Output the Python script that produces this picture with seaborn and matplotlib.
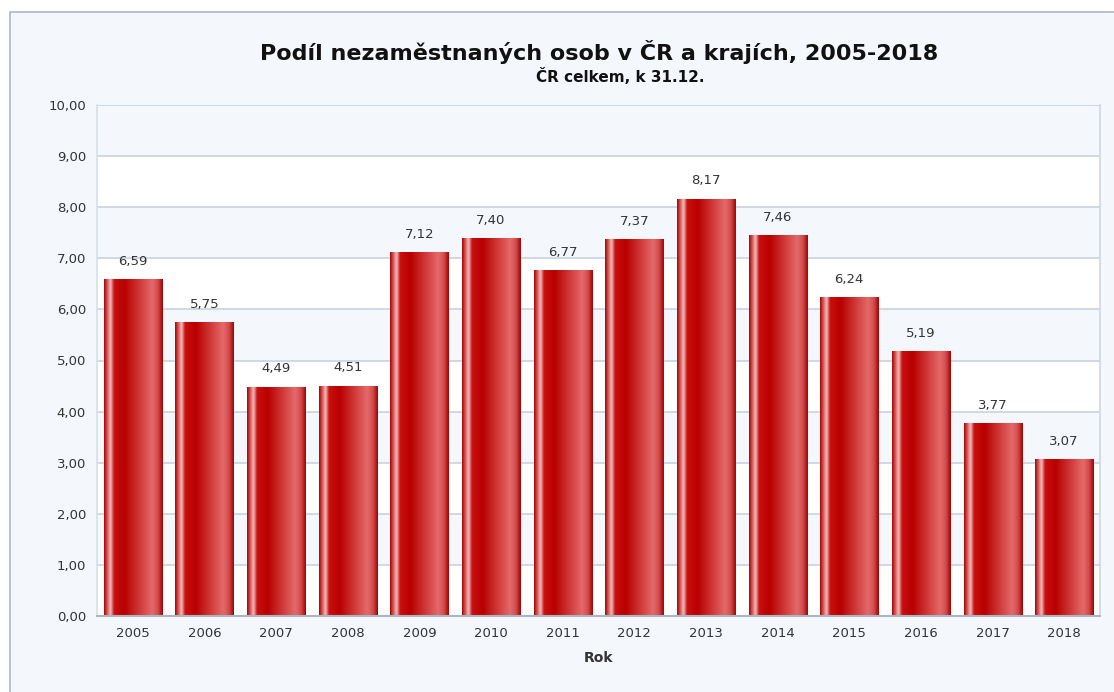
import numpy as np
import pandas as pd
import matplotlib
matplotlib.use("Agg")
import matplotlib.pyplot as plt
import seaborn as sns
from matplotlib.colors import LinearSegmentedColormap

years = ["2005", "2006", "2007", "2008", "2009", "2010", "2011",
         "2012", "2013", "2014", "2015", "2016", "2017", "2018"]
rates = [6.59, 5.75, 4.49, 4.51, 7.12, 7.40, 6.77,
         7.37, 8.17, 7.46, 6.24, 5.19, 3.77, 3.07]
yticks = [0, 1, 2, 3, 4, 5, 6, 7, 8, 9, 10]

df = pd.DataFrame({"Rok": years, "Podil": rates})

sns.set_theme(style="white")
plt.rcParams["font.family"] = ["DejaVu Sans"]

bg = "#f4f8fc"
fig = plt.figure(figsize=(11.14, 6.92), dpi=100, facecolor="white")
# outer panel (runs off the bottom and right edges like in the screenshot)
fig.patches.append(plt.Rectangle((10 / 1114, -0.05), 1.0, 1.05 - 12 / 692, transform=fig.transFigure,
                                 facecolor=bg, edgecolor="#a9b8c8", linewidth=1.2, zorder=-10))
ax = fig.add_axes([97 / 1114, 1 - 616 / 692, 1003 / 1114, 511 / 692])
ax.set_facecolor("white")

# alternating bands
for lo in yticks[:-1]:
    if lo % 2 == 1:
        ax.axhspan(lo, lo + 1, color=bg, zorder=0, lw=0)
for t in yticks[1:]:
    ax.axhline(t, color="#c8d3df", lw=1.2, zorder=0.5)

sns.barplot(data=df, x="Rok", y="Podil", ax=ax, color="#c00000", width=0.81,
            edgecolor="#8a0a0a", linewidth=0.6, zorder=2)

cmap = LinearSegmentedColormap.from_list("bar", [
    (0.0, "#a80000"), (0.06, "#d86060"), (0.11, "#f4c0c0"), (0.17, "#c81010"),
    (0.35, "#b80000"), (0.6, "#d03838"), (0.82, "#e46a6a"), (0.92, "#d24a4a"),
    (1.0, "#a00000")])
grad = np.linspace(0, 1, 256).reshape(1, -1)
for p in ax.containers[0].patches:
    x0, y0 = p.get_x(), p.get_y()
    w, h = p.get_width(), p.get_height()
    im = ax.imshow(grad, cmap=cmap, extent=[x0, x0 + w, y0, y0 + h],
                   aspect="auto", zorder=2.5, interpolation="bicubic")
    im.set_clip_path(p)
    ax.text(x0 + w / 2, h + 0.22, f"{h:.2f}".replace(".", ","), ha="center",
            va="bottom", fontsize=9.5, color="#333333", zorder=4)

ax.set_xlim(-0.5, len(years) - 0.5)
ax.set_ylim(0, 10)
ax.set_yticks(yticks)
ax.set_yticklabels([f"{t:.2f}".replace(".", ",") for t in yticks], fontsize=9.5, color="#333333")
ax.tick_params(axis="x", labelsize=9.5, colors="#333333", length=0, pad=8)
ax.tick_params(axis="y", length=0, pad=8)
ax.set_xlabel("Rok", fontsize=10, fontweight="bold", color="#333333", labelpad=8)
ax.set_ylabel("")
ax.spines["top"].set_visible(False)
ax.spines["right"].set_color("#d0d8e2")
ax.spines["left"].set_color("#d8e0e8")
ax.spines["bottom"].set_color("#a9b6c4")
ax.spines["bottom"].set_linewidth(1.5)

fig.text(0.538, 1 - 52 / 692, "Podíl nezaměstnaných osob v ČR a krajích, 2005-2018",
         ha="center", va="center", fontsize=16, fontweight="bold", color="#111111")
fig.text(0.557, 1 - 77 / 692, "ČR celkem, k 31.12.", ha="center", va="center",
         fontsize=11, fontweight="bold", color="#111111")

fig.savefig("out.png", dpi=100, facecolor="white")
